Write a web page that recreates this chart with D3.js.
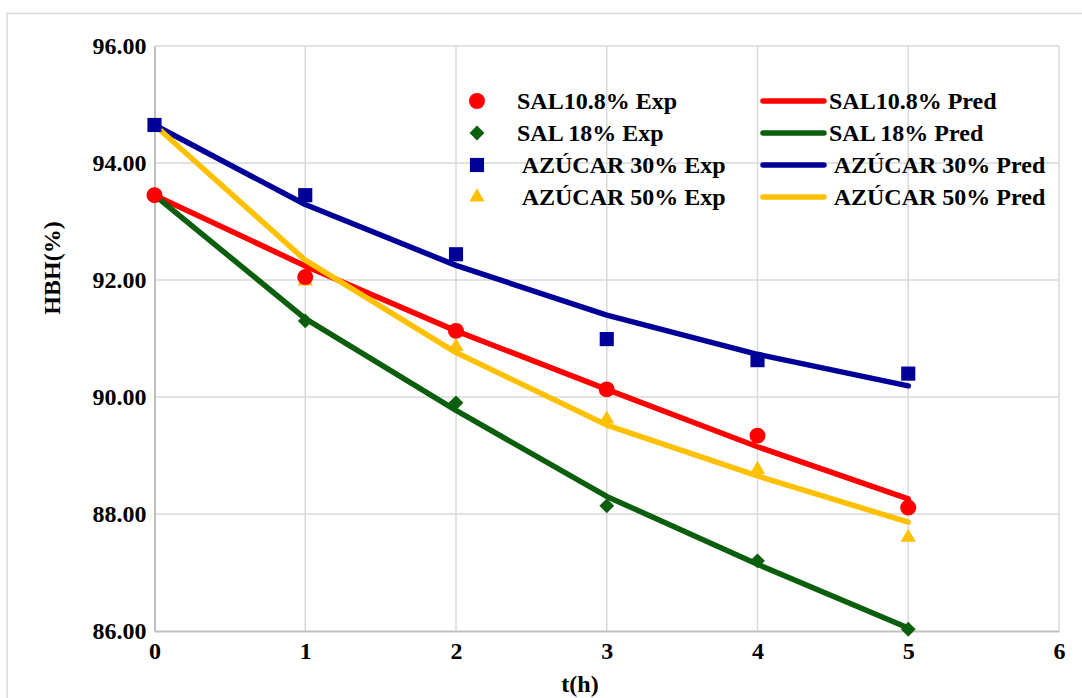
<!DOCTYPE html>
<html>
<head>
<meta charset="utf-8">
<script src="https://cdn.jsdelivr.net/npm/d3@7"></script>
<style>
  body { margin: 0; background: #fff; }
  svg text { font-family: "Liberation Serif", "Times New Roman", serif; font-weight: bold; fill: #000; white-space: pre; }
</style>
</head>
<body>
<div class="chart"></div>
<script>
// data
const times = [0, 1, 2, 3, 4, 5];
const sal108Exp  = [93.45, 92.05, 91.13, 90.13, 89.34, 88.11];
const sal108Pred = [93.45, 92.24, 91.13, 90.13, 89.15, 88.26];
const sal18Exp   = [93.45, 91.30, 89.90, 88.14, 87.20, 86.03];
const sal18Pred  = [93.45, 91.34, 89.77, 88.30, 87.14, 86.05];
const az30Exp    = [94.65, 93.45, 92.44, 90.99, 90.63, 90.40];
const az30Pred   = [94.65, 93.29, 92.25, 91.40, 90.73, 90.19];
const az50Exp    = [94.65, 91.98, 90.86, 89.62, 88.76, 87.60];
const az50Pred   = [94.65, 92.34, 90.76, 89.52, 88.65, 87.86];

const expLabels  = ["SAL10.8% Exp", "SAL 18% Exp", " AZÚCAR 30% Exp", " AZÚCAR 50% Exp"];
const predLabels = ["SAL10.8% Pred", "SAL 18% Pred", " AZÚCAR 30% Pred", " AZÚCAR 50% Pred"];
const colors = ["#ff0000", "#0b5e0b", "#000099", "#ffc000"];
const xTicks = [0, 1, 2, 3, 4, 5, 6];
const yTicks = [86, 88, 90, 92, 94, 96];

const expSeries  = [sal108Exp, sal18Exp, az30Exp, az50Exp];
const predSeries = [sal108Pred, sal18Pred, az30Pred, az50Pred];

const width = 1082, height = 698;
const margin = { top: 46, right: 23, bottom: 67, left: 154.5 };
const fontFamily = "'Liberation Serif', 'Times New Roman', serif";

const svg = d3.select(".chart").append("svg")
    .attr("width", width)
    .attr("height", height);

// outer frame
svg.append("rect")
    .attr("x", 7).attr("y", 13.5)
    .attr("width", width + 20).attr("height", height + 20)
    .style("fill", "none").style("stroke", "#d9d9d9").style("stroke-width", 1.5);

const xScale = d3.scaleLinear().domain([0, 6]).range([margin.left, width - margin.right]);
const yScale = d3.scaleLinear().domain([86, 96]).range([height - margin.bottom, margin.top]);

// grid
svg.append("g").selectAll("line").data(xTicks.slice(1)).enter().append("line")
    .attr("x1", d => xScale(d)).attr("x2", d => xScale(d))
    .attr("y1", yScale(96)).attr("y2", yScale(86))
    .style("stroke", "#d9d9d9").style("stroke-width", 1.5);
svg.append("g").selectAll("line").data(yTicks.slice(1)).enter().append("line")
    .attr("x1", xScale(0)).attr("x2", xScale(6))
    .attr("y1", d => yScale(d)).attr("y2", d => yScale(d))
    .style("stroke", "#d9d9d9").style("stroke-width", 1.5);

// axes
const xAxis = d3.axisBottom(xScale).tickValues(xTicks).tickFormat(d3.format("d")).tickSize(0).tickPadding(11);
const yAxis = d3.axisLeft(yScale).tickValues(yTicks).tickFormat(d3.format(".2f")).tickSize(0).tickPadding(8);

const gx = svg.append("g").attr("transform", `translate(0,${yScale(86)})`).call(xAxis);
const gy = svg.append("g").attr("transform", `translate(${xScale(0)},0)`).call(yAxis);
[gx, gy].forEach(g => {
    g.attr("font-family", fontFamily).attr("font-size", 24).attr("font-weight", "bold");
    g.select(".domain").style("stroke", "#c0c0c0").style("stroke-width", 2);
    g.selectAll("text")
        .style("font-size", "24px")
        .style("font-family", fontFamily)
        .style("font-weight", "bold");
});

// axis titles
svg.append("text")
    .attr("x", 580).attr("y", 692)
    .attr("text-anchor", "middle")
    .style("font-size", "24px")
    .text("t(h)");
svg.append("text")
    .attr("transform", "translate(60,268) rotate(-90)")
    .attr("text-anchor", "middle")
    .style("font-size", "24px")
    .text("HBH(%)");

// prediction lines
const line = d3.line()
    .x((d, i) => xScale(times[i]))
    .y(d => yScale(d));

predSeries.forEach((vals, i) => {
    svg.append("path")
        .attr("d", line(vals))
        .style("fill", "none")
        .style("stroke", colors[i])
        .style("stroke-width", 5.5)
        .style("stroke-linecap", "round")
        .style("stroke-linejoin", "round");
});

// markers
const symbols = [
    d3.symbol().type(d3.symbolCircle).size(200),
    d3.symbol().type(d3.symbolSquare).size(110),
    d3.symbol().type(d3.symbolSquare).size(200),
    d3.symbol().type(d3.symbolTriangle).size(100)
];
const rotations = [0, 45, 0, 0];

[3, 2, 1, 0].forEach(i => {
    svg.append("g").selectAll("path").data(expSeries[i]).enter().append("path")
        .attr("d", symbols[i]())
        .attr("transform", (d, j) => `translate(${xScale(times[j])},${yScale(d)}) rotate(${rotations[i]})`)
        .style("fill", colors[i]);
});

// legend
const legendY = [101, 133, 165, 197];
const legend = svg.append("g");
expLabels.forEach((label, i) => {
    legend.append("path")
        .attr("d", symbols[i]())
        .attr("transform", `translate(477,${legendY[i]}) rotate(${rotations[i]})`)
        .style("fill", colors[i]);
    legend.append("text")
        .attr("x", 517).attr("y", legendY[i])
        .attr("dy", "0.35em")
        .style("font-size", "24px")
        .text(label);
});
predLabels.forEach((label, i) => {
    legend.append("line")
        .attr("x1", 763).attr("x2", 824)
        .attr("y1", legendY[i]).attr("y2", legendY[i])
        .style("stroke", colors[i])
        .style("stroke-width", 5.5)
        .style("stroke-linecap", "round");
    legend.append("text")
        .attr("x", 829).attr("y", legendY[i])
        .attr("dy", "0.35em")
        .style("font-size", "24px")
        .text(label);
});
</script>
</body>
</html>
